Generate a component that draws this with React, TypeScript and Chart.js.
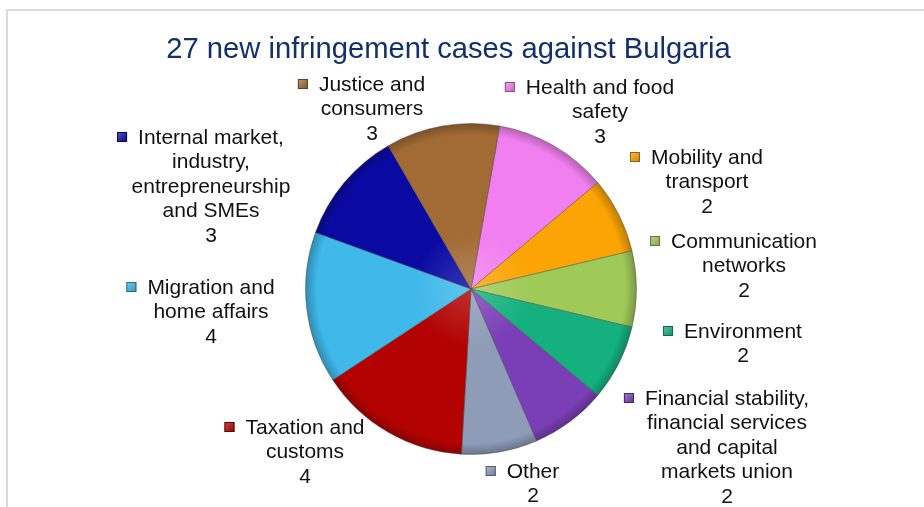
import React, { useEffect, useRef } from "react";
import { Chart, registerables } from "chart.js";

Chart.register(...registerables);

const TITLE = "27 new infringement cases against Bulgaria";

const categories: string[][] = [
  ["Health and food", "safety"],
  ["Mobility and", "transport"],
  ["Communication", "networks"],
  ["Environment"],
  ["Financial stability,", "financial services", "and capital", "markets union"],
  ["Other"],
  ["Taxation and", "customs"],
  ["Migration and", "home affairs"],
  ["Internal market,", "industry,", "entrepreneurship", "and SMEs"],
  ["Justice and", "consumers"],
];

const cases: number[] = [3, 2, 2, 2, 2, 2, 4, 4, 3, 3];

const sliceColors: string[] = [
  "#f27ff0",
  "#fca404",
  "#9fca58",
  "#14b17f",
  "#7a3fb6",
  "#8e9cb8",
  "#b20202",
  "#3fb8ea",
  "#0a0aa2",
  "#a26a34",
];

// label block anchors (text centre x, first-line centre y) relative to the pie centre
const labelOffsets: number[][] = [
  [129, -201],
  [236, -131],
  [273, -47],
  [272, 43],
  [256, 110],
  [62, 183],
  [-166, 139],
  [-260, -1],
  [-260, -151],
  [-99, -204],
];

const FONT = "'Liberation Sans', Arial, Helvetica, sans-serif";

function hexToRgb(h: string) {
  const v = parseInt(h.slice(1), 16);
  return [(v >> 16) & 255, (v >> 8) & 255, v & 255];
}
function mix(h: string, t: number, target: number) {
  const [r, g, b] = hexToRgb(h);
  const f = (c: number) => Math.round(c + (target - c) * t);
  return `rgb(${f(r)},${f(g)},${f(b)})`;
}

const labelPlugin = {
  id: "labelPlugin",
  beforeDraw(chart: any) {
    const ctx = chart.ctx;
    ctx.save();
    ctx.fillStyle = "#ffffff";
    ctx.fillRect(0, 0, chart.width, chart.height);
    ctx.strokeStyle = "#dadada";
    ctx.lineWidth = 2;
    ctx.beginPath();
    ctx.moveTo(7, chart.height + 5);
    ctx.lineTo(7, 10);
    ctx.lineTo(chart.width + 5, 10);
    ctx.stroke();
    // title
    ctx.fillStyle = "#12306e";
    ctx.font = `29.2px ${FONT}`;
    ctx.textAlign = "center";
    ctx.textBaseline = "alphabetic";
    ctx.fillText(TITLE, 448.5, 58);
    ctx.restore();
  },
  afterDatasetsDraw(chart: any) {
    const ctx = chart.ctx;
    const meta = chart.getDatasetMeta(0);
    if (!meta.data.length) return;
    const cx = meta.data[0].x;
    const cy = meta.data[0].y;
    const lh = 24.5;
    ctx.save();
    ctx.font = `21px ${FONT}`;
    ctx.textAlign = "center";
    ctx.textBaseline = "middle";
    categories.forEach((lines, i) => {
      const [dx, dy] = labelOffsets[i];
      const x = cx + dx;
      const y0 = cy + dy;
      const all = [...lines, String(cases[i])];
      ctx.fillStyle = "#111111";
      all.forEach((ln, k) => ctx.fillText(ln, x, y0 + k * lh));
      const w = ctx.measureText(lines[0]).width;
      const mx = x - w / 2 - 16;
      const my = y0 - 1;
      const s = 10;
      const g = ctx.createLinearGradient(mx - s / 2, my - s / 2, mx + s / 2, my + s / 2);
      g.addColorStop(0, mix(sliceColors[i], 0.3, 255));
      g.addColorStop(1, mix(sliceColors[i], 0.2, 0));
      ctx.fillStyle = g;
      ctx.fillRect(mx - s / 2, my - s / 2, s, s);
      ctx.strokeStyle = mix(sliceColors[i], 0.4, 0);
      ctx.lineWidth = 1;
      ctx.strokeRect(mx - s / 2 + 0.5, my - s / 2 + 0.5, s - 1, s - 1);
    });
    ctx.restore();
  },
};

export default function App() {
  const ref = useRef<HTMLCanvasElement | null>(null);
  useEffect(() => {
    if (!ref.current) return;
    const chart = new Chart(ref.current, {
      type: "pie",
      data: {
        labels: categories,
        datasets: [
          {
            data: cases,
            backgroundColor: (c: any) => {
              const i = c.dataIndex ?? 0;
              const base = sliceColors[i];
              const area = c.chart.chartArea;
              if (!area) return base;
              const x = (area.left + area.right) / 2;
              const y = (area.top + area.bottom) / 2;
              const r = Math.min(area.width, area.height) / 2;
              const g = c.chart.ctx.createRadialGradient(x, y, 0, x, y, r);
              g.addColorStop(0, mix(base, 0.18, 255));
              g.addColorStop(0.35, base);
              g.addColorStop(0.93, base);
              g.addColorStop(1, mix(base, 0.25, 0));
              return g;
            },
            borderColor: "rgba(70,70,70,0.45)",
            borderWidth: 1,
          },
        ],
      },
      options: {
        responsive: false,
        animation: false,
        rotation: 10,
        layout: { padding: { left: 305, right: 287, top: 123, bottom: 52 } },
        plugins: {
          legend: { display: false },
          title: { display: false },
          tooltip: { enabled: false },
        },
      },
      plugins: [labelPlugin],
    });
    return () => chart.destroy();
  }, []);
  return (
    <div style={{ position: "absolute", left: 0, top: 0, width: 924, height: 507 }}>
      <canvas ref={ref} width={924} height={507} style={{ width: 924, height: 507, display: "block" }} />
    </div>
  );
}
